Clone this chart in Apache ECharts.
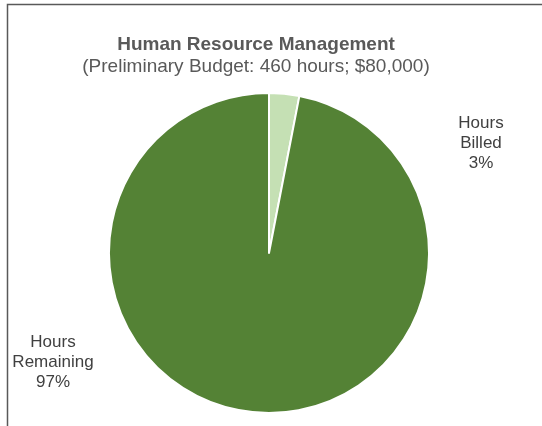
<!DOCTYPE html>
<html>
<head>
<meta charset="utf-8">
<script src="https://cdn.jsdelivr.net/npm/echarts@6/dist/echarts.min.js"></script>
<style>
html,body{margin:0;padding:0;background:#fff;}
#chart{width:542px;height:426px;}
</style>
</head>
<body>
<div id="chart"></div>
<script>
// Hours used against the preliminary budget
const categories = ['Hours Billed', 'Hours Remaining'];
const hours = [14, 446];
const sliceColors = ['#c5e0b4', '#548235'];
const labelSpots = [[481, 143], [53, 362]];

const chart = echarts.init(document.getElementById('chart'));
chart.setOption({
  animation: false,
  graphic: [{
    type: 'rect',
    shape: { x: 7.5, y: 4.5, width: 600, height: 500 },
    style: { fill: 'none', stroke: '#595959', lineWidth: 1.5 },
    silent: true
  }],
  title: {
    text: 'Human Resource Management',
    subtext: '(Preliminary Budget: 460 hours; $80,000)',
    left: 251,
    top: 29,
    textAlign: 'center',
    itemGap: 0,
    textStyle: { fontFamily: 'Liberation Sans, Arial, sans-serif', fontSize: 19, fontWeight: 'bold', color: '#595959', lineHeight: 22 },
    subtextStyle: { fontFamily: 'Liberation Sans, Arial, sans-serif', fontSize: 19, color: '#595959', lineHeight: 22 }
  },
  series: [{
    type: 'pie',
    center: [269, 253],
    radius: [0, 160],
    startAngle: 90,
    clockwise: true,
    data: categories.map((c, i) => ({ name: c, value: hours[i], itemStyle: { color: sliceColors[i] } })),
    itemStyle: { borderColor: '#ffffff', borderWidth: 2 },
    label: {
      show: true,
      position: 'outside',
      formatter: p => p.name.replace(' ', '\n') + '\n' + Math.round(p.percent) + '%',
      fontFamily: 'Liberation Sans, Arial, sans-serif',
      fontSize: 17,
      lineHeight: 20,
      color: '#404040',
      align: 'center'
    },
    labelLine: { show: false },
    labelLayout: p => ({ x: labelSpots[p.dataIndex][0], y: labelSpots[p.dataIndex][1], align: 'center', verticalAlign: 'middle' }),
    emphasis: { disabled: true }
  }]
});
</script>
</body>
</html>
